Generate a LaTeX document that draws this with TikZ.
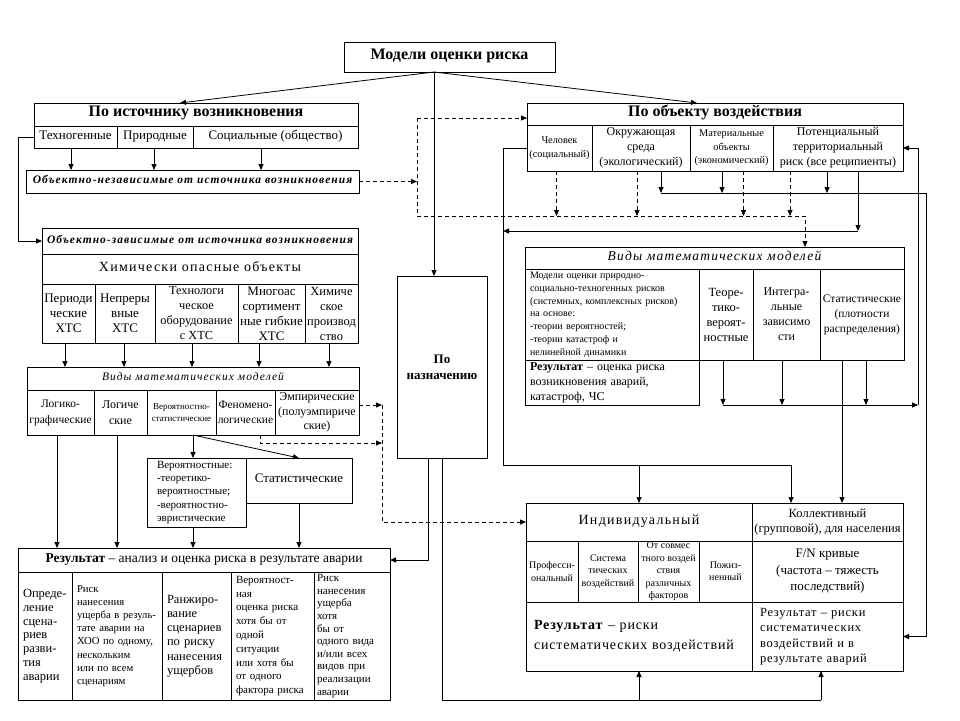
\documentclass[tikz,border=0pt]{standalone}
\usepackage{fontspec}
\setmainfont{Liberation Serif}
\newfontfamily\widefont[LetterSpace=6]{Liberation Serif}
\newfontfamily\oblfont[LetterSpace=9]{Liberation Serif}
\usetikzlibrary{arrows.meta}
\def\thickness{0.8pt}
\tikzset{arr/.style={-{Triangle[length=6pt,width=5pt]}}}
\tikzset{dsh/.style={dash pattern=on 4pt off 3pt}}
\tikzset{cellbox/.style={draw, inner sep=0pt, outer sep=0pt}}
\tikzset{celltext/.style={inner sep=0pt, align=center}}
\tikzset{oneline/.style={text height=0.7em, text depth=0.22em}}
\tikzset{lefttext/.style={align=left, text width=#1}}
\def\fbigb{\fontsize{16}{18}\selectfont\bfseries}
\def\fmid{\fontsize{13}{15}\selectfont}
\def\fobl{\oblfont\fontsize{11.5}{13}\selectfont\bfseries\itshape}
\def\fitl{\oblfont\fontsize{11.5}{14}\selectfont\itshape}
\def\fsz#1#2{\fontsize{#1}{#2}\selectfont}
% cell: name, text style, x1, y1, x2, y2, text
\def\boxcell#1#2#3#4#5#6#7{%
  \node[cellbox, minimum width={(#5-#3)*1pt}, minimum height={(#6-#4)*1pt}] (#1) at ({(#3+#5)/2},{(#4+#6)/2}) {};
  \node[celltext, #2] (#1t) at (#1.center) {#7};}
\begin{document}
\begin{tikzpicture}[x=1pt, y=-1pt, line width=\thickness]
\useasboundingbox (0,0) rectangle (960,720);

% top
\boxcell{top}{oneline, font=\fbigb}{344}{42}{555}{72}{Модели оценки риска}

% by source
\boxcell{src}{oneline, font=\fbigb}{34}{103}{358}{126}{По источнику возникновения}
\boxcell{srcA}{oneline, font=\fmid}{34}{126}{117}{148}{Техногенные}
\boxcell{srcB}{oneline, font=\fmid}{117}{126}{193}{148}{Природные}
\boxcell{srcC}{oneline, font=\fmid}{193}{126}{358}{148}{Социальные (общество)}
\boxcell{ind}{oneline, font=\fobl}{26}{170}{359}{193}{Объектно-независимые от источника возникновения}

\boxcell{dep}{oneline, font=\fobl}{42}{228}{358}{254}{Объектно-зависимые от источника возникновения}
\boxcell{chem}{oneline, font=\oblfont\fsz{14}{16}}{42}{254}{358}{284}{Химически опасные объекты}
\boxcell{dA}{font=\fsz{13}{15}}{42}{284}{95}{343}{Периоди\\ческие\\ХТС}
\boxcell{dB}{font=\fsz{13}{15}}{95}{284}{155}{343}{Непреры\\вные\\ХТС}
\boxcell{dC}{font=\fsz{12.3}{15}}{155}{284}{238}{343}{Технологи\\ческое\\оборудование\\с ХТС}
\boxcell{dD}{font=\fsz{13}{15}}{238}{284}{305}{343}{Многоас\\сортимент\\ные гибкие\\ХТС}
\boxcell{dE}{font=\fsz{12.5}{15}}{305}{284}{358}{343}{Химиче\\ское\\производ\\ство}

\boxcell{lmod}{oneline, font=\fitl}{27}{367}{359}{390}{Виды математических моделей}
\boxcell{lA}{font=\fsz{11.5}{16}}{27}{390}{94}{435}{Логико-\\графические}
\boxcell{lB}{font=\fsz{12}{16}}{94}{390}{147}{435}{Логиче\\ские}
\boxcell{lC}{font=\fsz{9}{12}}{147}{390}{216}{435}{Вероятностно-\\статистические}
\boxcell{lD}{font=\fsz{11.5}{15}}{216}{390}{275}{435}{Феномено-\\логические}
\boxcell{lE}{font=\fsz{12}{14.5}}{275}{390}{359}{435}{Эмпирические\\(полуэмпириче\\ские)}

\boxcell{prob}{lefttext=79pt, font=\fsz{11}{13.3}}{147}{458}{246}{527}{Вероятностные:\\-теоретико-\\вероятностные;\\-вероятностно-\\эвристические}
\boxcell{stat}{oneline, font=\fsz{13}{15}}{246}{458}{352}{503}{Статистические}

\boxcell{res}{oneline, font=\fsz{13.5}{15}}{18}{548}{390}{572}{\textbf{Результат} – анализ и оценка риска в результате аварии}
\boxcell{r1}{lefttext=44pt, font=\fsz{12.5}{13.8}}{18}{572}{72}{700}{Опреде-\\ление\\сцена-\\риев\\разви-\\тия\\аварии}
\boxcell{r2}{lefttext=80pt, font=\fsz{10.7}{13.2}}{72}{572}{162}{700}{Риск\\нанесения\\ущерба в резуль-\\тате аварии на\\ХОО по одному,\\ нескольким\\или по всем\\ сценариям}
\boxcell{r3}{lefttext=59pt, font=\fsz{12.5}{14.3}}{162}{572}{231}{700}{Ранжиро-\\вание\\сценариев\\по риску\\нанесения\\ущербов}
\boxcell{r4}{lefttext=73pt, font=\fsz{11}{13.8}}{231}{572}{314}{700}{Вероятност-\\ная\\оценка риска\\хотя бы от\\одной\\ситуации\\или хотя бы\\от одного\\фактора риска}
\boxcell{r5}{lefttext=70pt, font=\fsz{11}{12.6}}{314}{572}{390}{700}{Риск\\нанесения\\ ущерба\\хотя\\бы от\\одного вида\\ и/или всех\\ видов при\\реализации\\аварии}

% by purpose
\boxcell{pur}{font=\fsz{13}{16}\bfseries}{397}{276}{487}{458}{По\\назначению}

% by object
\boxcell{obj}{oneline, font=\fbigb}{527}{103}{903}{125}{По объекту воздействия}
\boxcell{objA}{font=\fsz{10.3}{13.5}}{527}{125}{592}{171}{Человек\\(социальный)}
\boxcell{objB}{font=\fsz{12}{15}}{592}{125}{690}{171}{Окружающая\\среда\\(экологический)}
\boxcell{objC}{font=\fsz{10.3}{13.5}}{690}{125}{773}{171}{Материальные\\объекты\\(экономический)}
\boxcell{objD}{font=\fsz{12}{15}}{773}{125}{903}{171}{Потенциальный\\территориальный\\риск (все реципиенты)}

\boxcell{rmod}{oneline, font=\oblfont\fsz{13.5}{15}\itshape}{525}{247}{904}{269}{Виды математических моделей}
\boxcell{rA}{lefttext=164pt, font=\fsz{10}{12.8}}{525}{269}{699}{360}{Модели оценки природно-\\социально-техногенных рисков\\(системных, комплексных рисков)\\ на основе:\\-теории вероятностей;\\-теории катастроф и\\нелинейной динамики}
\boxcell{rB}{font=\fsz{12.5}{15}}{699}{269}{753}{360}{Теоре-\\тико-\\вероят-\\ностные}
\boxcell{rC}{font=\fsz{12}{15}}{753}{269}{820}{360}{Интегра-\\льные\\зависимо\\сти}
\boxcell{rD}{font=\fsz{11.5}{15}}{820}{269}{904}{360}{Статистические\\(плотности\\распределения)}
\boxcell{rR}{lefttext=164pt, font=\fsz{12}{15}}{525}{360}{699}{405}{\textbf{Результат} – оценка риска\\возникновения аварий,\\катастроф, ЧС}

\boxcell{indv}{oneline, font=\oblfont\fsz{14}{16}}{526}{503}{752}{541}{Индивидуальный}
\boxcell{coll}{font=\fsz{12.5}{15.5}}{752}{503}{903}{541}{Коллективный\\(групповой), для населения}
\boxcell{pA}{font=\fsz{10}{12.5}}{526}{541}{578}{602}{Професси-\\ональный}
\boxcell{pB}{font=\fsz{10}{12.5}}{578}{541}{638}{602}{Система\\тических\\воздействий}
\boxcell{pC}{font=\fsz{10}{12.5}}{638}{541}{699}{602}{От совмес\\тного воздей\\ствия\\различных\\факторов}
\boxcell{pD}{font=\fsz{10}{12.5}}{699}{541}{752}{602}{Пожиз-\\ненный}
\boxcell{fn}{font=\fsz{13}{16.5}}{752}{541}{903}{602}{F/N кривые\\(частота – тяжесть\\последствий)}
\boxcell{rsys}{lefttext=210pt, font=\widefont\fsz{14}{20}}{526}{602}{752}{671}{\textbf{Результат} – риски\\ систематических воздействий}
\boxcell{rall}{lefttext=135pt, font=\widefont\fsz{12.5}{15.5}}{752}{602}{903}{671}{Результат – риски\\систематических\\воздействий и в\\ результате аварий}

% connectors from the top
\draw[arr] ([xshift=-15.5]top.south) -- ([xshift=-16]src.north);
\draw[arr] ([xshift=-15.5]top.south) -- ([xshift=-18]obj.north);
\draw[arr] ([xshift=-15.5]top.south) -- ([xshift=-8]pur.north);

% source side
\draw[arr] (srcA.west) -- ++(-16,0) |- (dep.west);
\draw[arr] ([xshift=-4.5]srcA.south) -- ++(0,22);
\draw[arr] ([xshift=-1]srcB.south) -- ++(0,22);
\draw[arr] ([xshift=-14.5]srcC.south) -- ++(0,22);

\coordinate (d1) at (417,118);
\coordinate (d2) at (805,216);
\draw[dsh,arr] (ind.east) -- ++(58,0);
\draw[dsh,arr] (d1) -- (obj.west |- d1);
\draw[dsh,arr] (d1) |- (d2) -- (d2 |- rmod.north);

\draw[arr] ([xshift=-3.5]dA.south) -- ++(0,24);
\draw[arr] ([xshift=-1]dB.south) -- ++(0,24);
\draw[arr] ([xshift=-4.5]dC.south) -- ++(0,24);
\draw[arr] ([xshift=-12.5]dD.south) -- ++(0,24);
\draw[arr] ([xshift=-2.5]dE.south) -- ++(0,24);

\draw[arr] ([xshift=-3.5]lA.south) -- ++(0,113);
\draw[arr] ([xshift=-3.5]lB.south) -- ++(0,113);
\draw[arr] ([xshift=11.5]lC.south) -- ++(0,23);
\draw[arr] ([xshift=11.5]lC.south) -- (stat.north);
\draw[arr] ([xshift=-3.5]prob.south) -- ++(0,21);
\draw[arr] (stat.south) -- ++(0,45);

\coordinate (d3) at (382,405);
\coordinate (d4) at (382,443);
\draw[dsh,arr] ([yshift=7.5]lE.east) -- (d3);
\draw[dsh,arr] ([xshift=14.5]lD.south) |- (d4);
\draw[dsh,arr] (d3) |- (indv.west);

% purpose
\coordinate (s6) at (821,700);
\draw[arr] ([xshift=-14]pur.south) |- (res.east);
\draw (pur.south) |- (s6);
\draw[arr] (s6) -- (s6 |- rall.south);
\draw[arr] (rsys.south |- s6) -- (rsys.south);

% object side
\draw[dsh,arr] ([xshift=-3]objA.south) -- ++(0,45);
\draw[dsh,arr] ([xshift=-4]objB.south) -- ++(0,45);
\draw[dsh,arr] ([xshift=12]objC.south) -- ++(0,45);
\draw[dsh,arr] ([xshift=-48]objD.south) -- ++(0,45);

\coordinate (s1) at (926,193);
\coordinate (s2) at (503,231);
\coordinate (s3) at (503,465);
\coordinate (s5) at (791,465);
\draw[arr] ([xshift=20]objB.south) -- ++(0,22);
\draw[arr] ([xshift=-9.5]objC.south) -- ++(0,22);
\draw[arr] ([xshift=-11]objD.south) -- ++(0,22);
\draw ([xshift=20]objB.south) ++(0,22) -- (s1);
\draw[arr] (s1) |- (rall.east);
\draw[arr] ([xshift=20]objD.south) -- ++(0,60);
\draw[arr] ([xshift=20]objD.south) ++(0,60) -- (s2);
\draw (objA.west) -| (s3) -- (s5);
\draw[arr] (s3 -| indv.north) -- (indv.north);
\draw[arr] (s5) -- (s5 |- coll.north);

\coordinate (s4) at (918,405);
\draw[arr] ([xshift=-3]rB.south) -- ++(0,45);
\draw[arr] ([xshift=-4.5]rC.south) -- ++(0,45);
\draw[arr] ([xshift=4]rD.south) -- ++(0,45);
\draw[arr] ([xshift=-3]rB.south) ++(0,45) -- (s4);
\draw[arr] (s4) |- (objD.east);
\draw[arr] ([xshift=-20]rD.south) -- ++(0,143);

\end{tikzpicture}
\end{document}
